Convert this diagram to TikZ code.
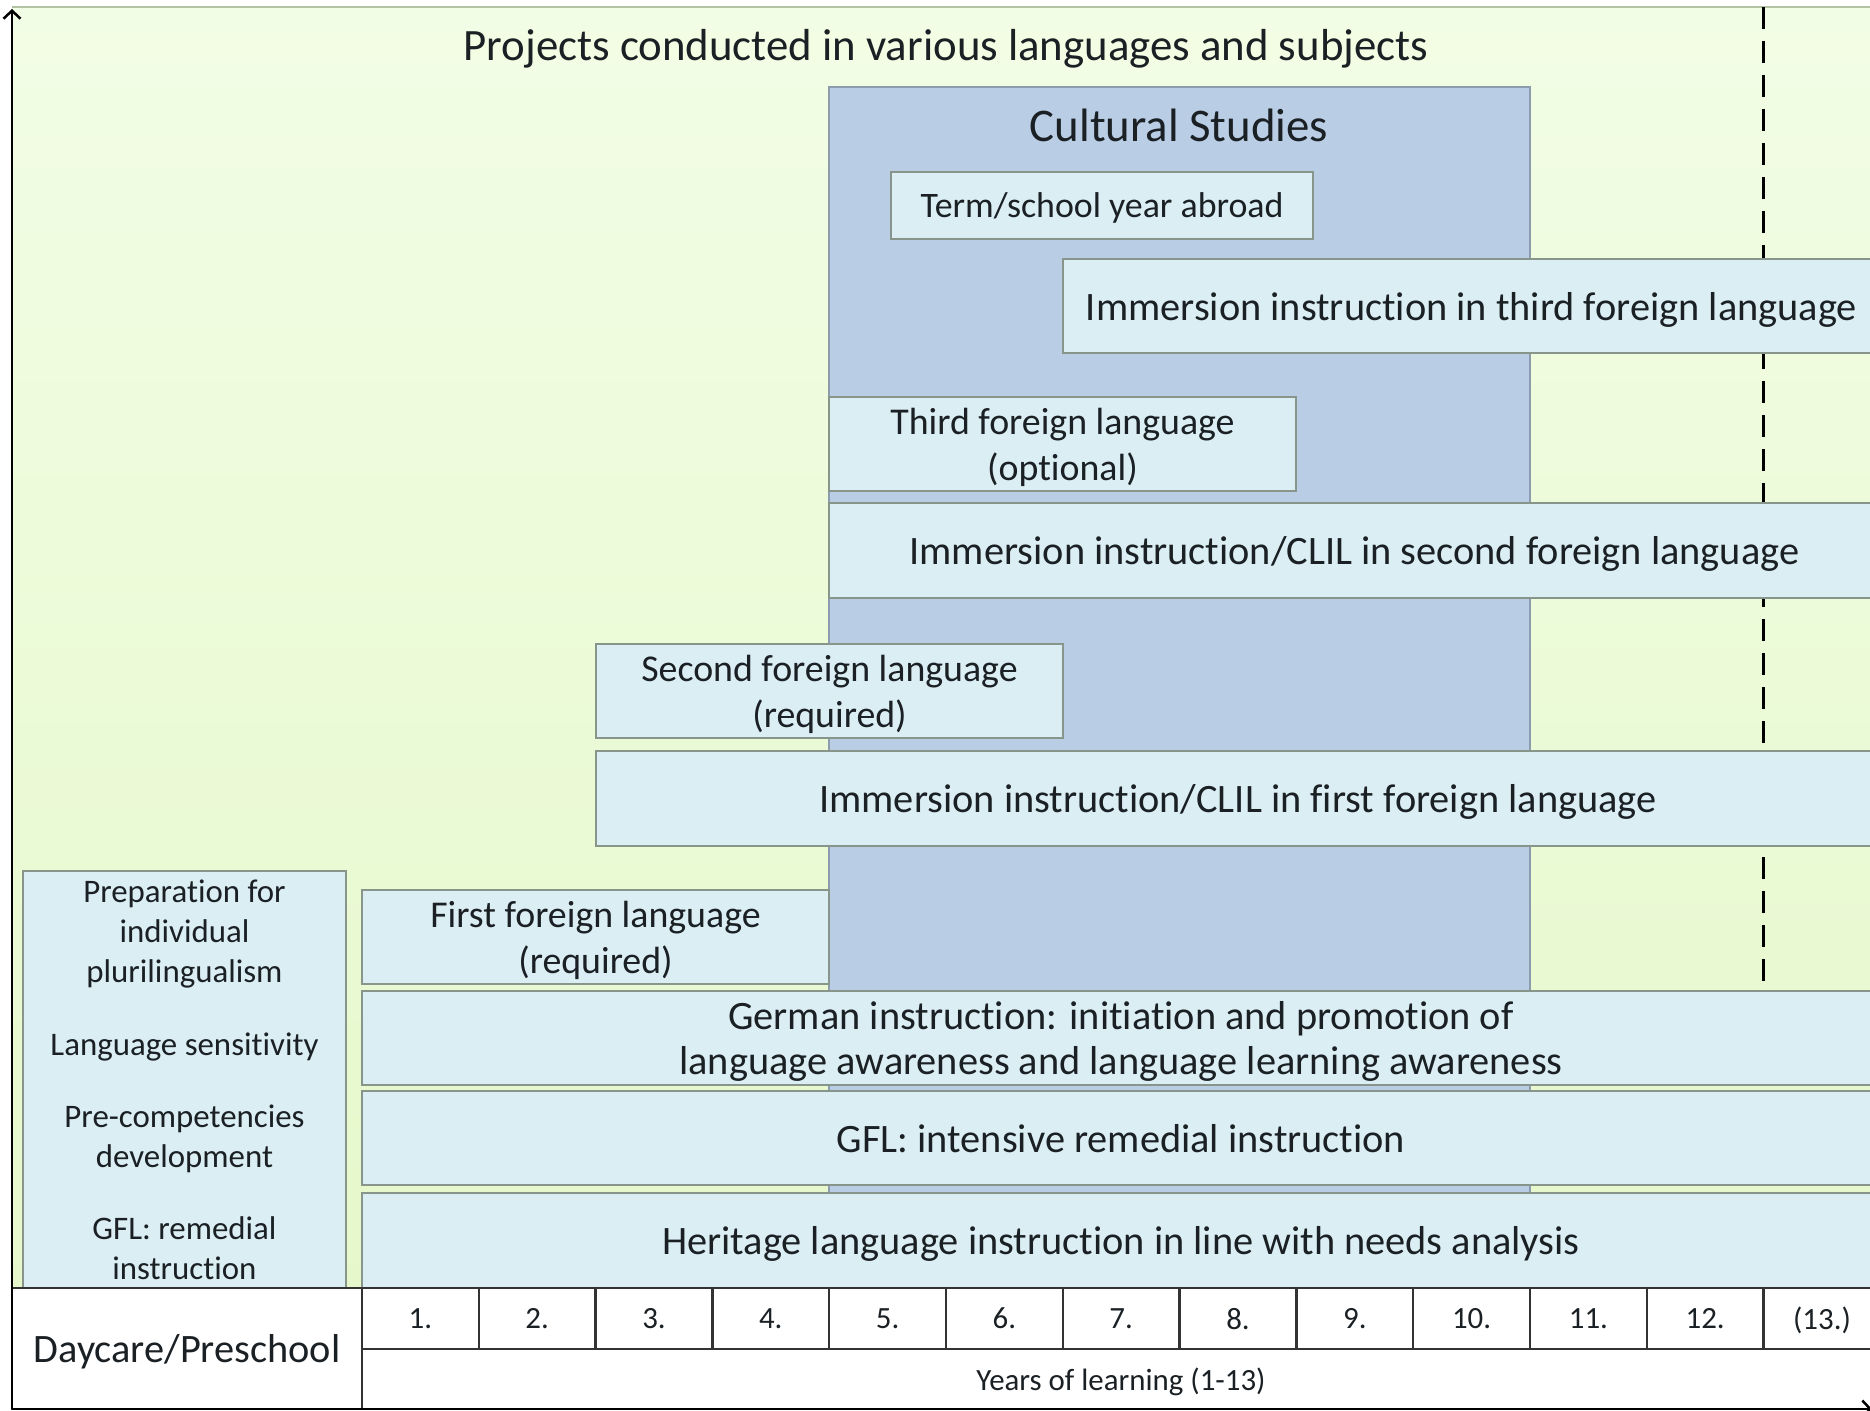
\documentclass[tikz,border=0pt]{standalone}
\usepackage{fontspec}
\setmainfont{Carlito}[Ligatures={NoCommon,NoRare}]
\usetikzlibrary{arrows.meta}
\definecolor{bgtop}{HTML}{F2FDE5}
\definecolor{bgbot}{HTML}{E6F8CB}
\definecolor{bgline}{HTML}{B4C2A4}
\definecolor{boxfill}{HTML}{DBEEF4}
\definecolor{boxline}{HTML}{87958A}
\definecolor{cultfill}{HTML}{B9CDE5}
\definecolor{cultline}{HTML}{8C9CAE}
\definecolor{txt}{HTML}{1A2024}
\definecolor{tabline}{HTML}{333333}
\begin{document}
\begin{tikzpicture}[x=1bp,y=-1bp,
  every node/.style={inner sep=0pt, outer sep=0pt, text=txt, text depth=0pt},
  lbox/.style={draw=boxline, line width=2.5bp, fill=boxfill, anchor=north west,
    align=center, font=\fontsize{40.5}{46}\selectfont},
  sbox/.style={lbox, font=\fontsize{38}{46}\selectfont},
  cellbox/.style={draw=tabline, line width=2.5bp, fill=white, anchor=north west,
    minimum width=116.8bp, minimum height=61bp, font=\fontsize{31}{36}\selectfont},
  leftlbl/.style={align=center, font=\fontsize{33}{40}\selectfont},
  axis/.style={draw=black, line width=2.5bp},
]
\useasboundingbox (0,0) rectangle (1870,1411);

% background area
\node[anchor=north west, minimum width=1868bp, minimum height=1281bp,
  top color=bgtop, bottom color=bgbot, draw=none] (bg) at (12,7) {};
\draw[bgline, line width=2bp] (bg.north west) -- (bg.north east);
\node[font=\fontsize{45}{52}\selectfont] (title) at (946,45)
  {Projects conducted in various languages and subjects};

% dashed boundary between year 12 and 13
\coordinate (dtop) at (1763.6,7);
\coordinate (dbot) at (1763.6,1288);
\draw[black, line width=2.5bp, dash pattern=on 22bp off 12bp] (dtop) -- (dbot);

% Cultural studies
\node[draw=cultline, line width=2bp, fill=cultfill, anchor=north west,
  minimum width=701bp, minimum height=1201bp] (cult) at (829,87) {};
\node[font=\fontsize{47}{54}\selectfont] (culttxt) at (1179,125) {Cultural Studies};

% boxes
\node[lbox, font=\fontsize{36}{42}\selectfont, minimum width=422bp, minimum height=67bp]
  (term) at (891,172) {Term/school year abroad};
\node[lbox, minimum width=817bp, minimum height=94bp]
  (imm3) at (1063,259) {Immersion instruction in third foreign language};
\node[sbox, minimum width=467bp, minimum height=94bp]
  (third) at (829,397) {Third foreign language\\(optional)};
\node[lbox, minimum width=1051bp, minimum height=95bp]
  (imm2) at (829,503) {Immersion instruction/CLIL in second foreign language};
\node[sbox, minimum width=467bp, minimum height=94bp]
  (second) at (596,644) {Second foreign language\\(required)};
\node[lbox, minimum width=1284bp, minimum height=95bp]
  (imm1) at (596,751) {Immersion instruction/CLIL in first foreign language};
\node[sbox, minimum width=467bp, minimum height=94bp]
  (first) at (362,890) {First foreign language\\(required)};
\node[lbox, minimum width=1518bp, minimum height=94bp]
  (german) at (362,991) {German instruction: initiation and promotion of\\language awareness and language learning awareness};
\node[lbox, minimum width=1518bp, minimum height=94bp]
  (gfl) at (362,1091) {GFL: intensive remedial instruction};
\node[lbox, minimum width=1518bp, minimum height=95bp]
  (heritage) at (362,1193) {Heritage language instruction in line with needs analysis};

% preschool box
\node[lbox, minimum width=323bp, minimum height=417bp] (pre) at (23,871) {};
\node[leftlbl] (pre1) at (184.5,931) {Preparation for\\individual\\plurilingualism};
\node[leftlbl] (pre2) at (184.5,1044) {Language sensitivity};
\node[leftlbl] (pre3) at (184.5,1136) {Pre-competencies\\development};
\node[leftlbl] (pre4) at (184.5,1248) {GFL: remedial\\instruction};

% table
\node[draw=tabline, line width=2.5bp, fill=white, anchor=north west,
  minimum width=350bp, minimum height=121bp, font=\fontsize{40.5}{46}\selectfont]
  (daycare) at (12,1288) {Daycare/Preschool};
\foreach \i/\lbl in {1/1.,2/2.,3/3.,4/4.,5/5.,6/6.,7/7.,8/8.,9/9.,10/10.,11/11.,12/12.,13/(13.)}{
  \node[cellbox] (y\i) at ({362+(\i-1)*116.8},1288) {\lbl};
}
\node[draw=tabline, line width=2.5bp, fill=white, anchor=north west,
  minimum width=1518bp, minimum height=60bp, font=\fontsize{31}{36}\selectfont]
  (years) at (362,1349) {Years of learning (1-13)};

% axes
\coordinate (origin) at (12,1409);
\coordinate (ytop) at (12,9);
\coordinate (xend) at (1872,1409);
\draw[axis, -{Straight Barb[length=8bp,width=17bp,line width=2.5bp]}] (origin) -- (ytop);
\draw[axis, -{Straight Barb[length=8bp,width=17bp,line width=2.5bp]}] (origin) -- (xend);
\end{tikzpicture}
\end{document}
